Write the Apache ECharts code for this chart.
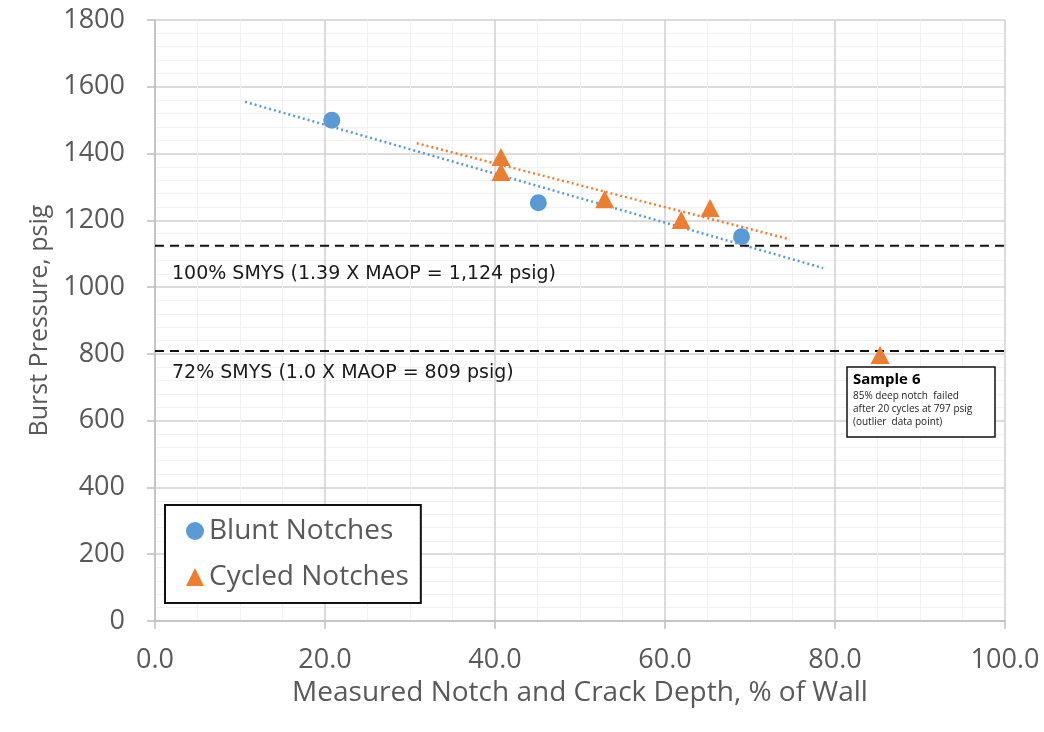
<!DOCTYPE html>
<html><head><meta charset="utf-8">
<script src="https://cdn.jsdelivr.net/npm/echarts@6/dist/echarts.min.js"></script>
<style>html,body{margin:0;padding:0;background:#fff}#c{width:1044px;height:732px}</style>
</head><body><div id="c"></div>
<script>
// ---- data ----
const bluntX = [20.8, 45.1, 69.0];
const bluntY = [1500, 1253, 1151];
const cycledX = [40.7, 40.7, 52.9, 61.9, 65.3, 85.3];
const cycledY = [1390, 1345, 1263, 1201, 1237, 797];
const blueTrendX = [10.6, 78.6];
const blueTrendY = [1555, 1057];
const orangeTrendX = [30.8, 74.7];
const orangeTrendY = [1431, 1143];
const refLevels = [1124, 809];
const refLineX = [0, 102.6];
const refLabels = ['100% SMYS (1.39 X MAOP = 1,124 psig)', '72% SMYS (1.0 X MAOP = 809 psig)'];
const seriesNames = ['Blunt Notches', 'Cycled Notches'];
const noteTitle = 'Sample 6';
const noteLines = ['85% deep notch  failed', 'after 20 cycles at 797 psig', '(outlier  data point)'];
const xAxisTitle = 'Measured Notch and Crack Depth, % of Wall';
const yAxisTitle = 'Burst Pressure, psig';

const zip = (a, b) => a.map((v, i) => [v, b[i]]);
const BLUE = '#5b9bd5', ORANGE = '#ed7d31', GRAY = '#595959';

const chart = echarts.init(document.getElementById('c'), null, {renderer: 'canvas'});

const refSeries = refLevels.map(lv => ({
  type: 'line', silent: true, clip: false, symbol: 'none', z: 3,
  data: refLineX.map(x => [x, lv]),
  lineStyle: {color: '#111', width: 2, type: [9, 6]}
}));

chart.setOption({
  animation: false,
  backgroundColor: '#fff',
  grid: {left: 155, right: 39, top: 20, bottom: 111},
  xAxis: {
    type: 'value', min: 0, max: 100, interval: 20,
    name: xAxisTitle, nameLocation: 'middle', nameGap: 53,
    nameTextStyle: {fontFamily: 'Open Sans', fontSize: 28, color: GRAY},
    axisLine: {show: true, lineStyle: {color: '#bfbfbf', width: 1.5}},
    axisTick: {show: true, length: 8, lineStyle: {color: '#bfbfbf', width: 1.5}},
    axisLabel: {fontFamily: 'Open Sans', fontSize: 27, color: GRAY, margin: 26,
      formatter: v => v.toFixed(1)},
    splitLine: {show: true, lineStyle: {color: '#d0d0d0', width: 1.5}},
    minorTick: {show: false, splitNumber: 4},
    minorSplitLine: {show: true, lineStyle: {color: '#f1f1f1', width: 1}}
  },
  yAxis: {
    type: 'value', min: 0, max: 1800, interval: 200,
    name: yAxisTitle, nameLocation: 'middle', nameGap: 94,
    nameTextStyle: {fontFamily: 'Open Sans', fontSize: 25, color: GRAY},
    axisLine: {show: true, lineStyle: {color: '#bfbfbf', width: 1.5}},
    axisTick: {show: true, length: 8, lineStyle: {color: '#bfbfbf', width: 1.5}},
    axisLabel: {fontFamily: 'Open Sans', fontSize: 27, color: GRAY, margin: 30,
      formatter: v => String(v)},
    splitLine: {show: true, lineStyle: {color: '#d0d0d0', width: 1.5}},
    minorTick: {show: false, splitNumber: 5},
    minorSplitLine: {show: true, lineStyle: {color: '#f1f1f1', width: 1}}
  },
  legend: {
    orient: 'vertical', left: 165, top: 505, data: seriesNames,
    itemWidth: 18, itemHeight: 18, itemGap: 18,
    padding: [12, 12, 12, 21],
    borderColor: '#111', borderWidth: 2, backgroundColor: '#fff',
    textStyle: {fontFamily: 'Open Sans', fontSize: 28, color: GRAY}
  },
  series: [
    {type: 'line', silent: true, symbol: 'none', z: 2,
      data: zip(blueTrendX, blueTrendY),
      lineStyle: {color: BLUE, width: 2.5, type: [2, 3]}},
    {type: 'line', silent: true, symbol: 'none', z: 2,
      data: zip(orangeTrendX, orangeTrendY),
      lineStyle: {color: ORANGE, width: 2.5, type: [2, 3]}},
    ...refSeries,
    {name: seriesNames[0], type: 'scatter', symbol: 'circle', symbolSize: 17, z: 5,
      data: zip(bluntX, bluntY), itemStyle: {color: BLUE, opacity: 1}},
    {name: seriesNames[1], type: 'scatter', symbol: 'triangle', symbolSize: [19, 18], z: 5,
      data: zip(cycledX, cycledY), itemStyle: {color: ORANGE, opacity: 1}}
  ],
  graphic: [
    {type: 'text', x: 172, y: 265, z: 10,
      style: {text: refLabels[0], font: '19px "DejaVu Sans"', fill: '#1a1a1a'}},
    {type: 'text', x: 172, y: 364, z: 10,
      style: {text: refLabels[1], font: '19px "DejaVu Sans"', fill: '#1a1a1a'}},
    {type: 'rect', x: 847, y: 367, z: 10, shape: {x: 0, y: 0, width: 148, height: 70},
      style: {fill: '#fff', stroke: '#111', lineWidth: 1.5}},
    {type: 'text', x: 853, y: 372, z: 11,
      style: {text: noteTitle, font: 'bold 15px "Open Sans"', fill: '#000', stroke: null, lineWidth: 0}},
    {type: 'text', x: 853, y: 390, z: 11,
      style: {text: noteLines.join('\n'), font: '10px "Open Sans"', lineHeight: 13, fill: '#222', stroke: null, lineWidth: 0}}
  ]
});
</script>
</body></html>
